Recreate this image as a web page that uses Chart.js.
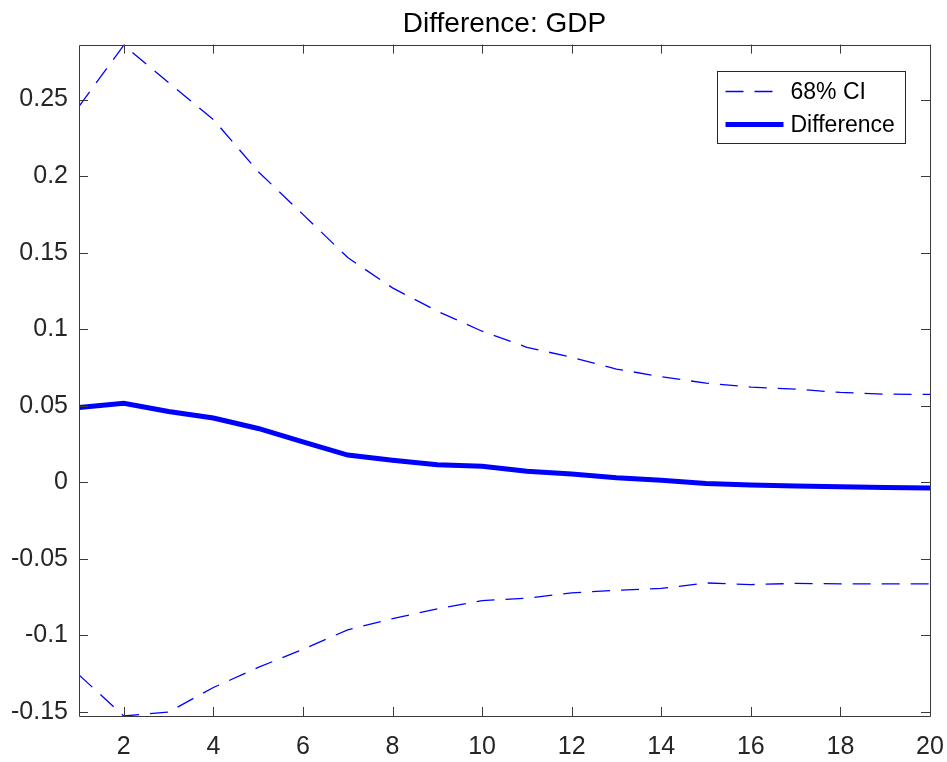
<!DOCTYPE html>
<html>
<head>
<meta charset="utf-8">
<title>Difference: GDP</title>
<script src="https://cdn.jsdelivr.net/npm/chart.js@4/dist/chart.umd.min.js"></script>
<style>
  html, body { margin: 0; padding: 0; background: #ffffff; }
  #wrap { width: 947px; height: 762px; }
</style>
</head>
<body>
<div id="wrap"><canvas id="c" width="947" height="762"></canvas></div>
<script>
// Horizon (periods after the shock)
const horizon = [1, 2, 3, 4, 5, 6, 7, 8, 9, 10, 11, 12, 13, 14, 15, 16, 17, 18, 19, 20];

// Upper and lower bounds of the 68% credible band
const upperCI = [0.2456, 0.2855, 0.2610, 0.2370, 0.2030, 0.1750, 0.1468, 0.1270, 0.1118, 0.0987,
                 0.0882, 0.0817, 0.0740, 0.0690, 0.0648, 0.0622, 0.0609, 0.0587, 0.0576, 0.0574];
const lowerCI = [-0.1258, -0.1526, -0.1500, -0.1340, -0.1209, -0.1090, -0.0963, -0.0890, -0.0826, -0.0772,
                 -0.0757, -0.0722, -0.0705, -0.0693, -0.0657, -0.0668, -0.0660, -0.0663, -0.0663, -0.0663];

// Median difference in GDP response
const difference = [0.0488, 0.0517, 0.0463, 0.0420, 0.0352, 0.0265, 0.0178, 0.0145, 0.0115, 0.0105,
                    0.0072, 0.0054, 0.0030, 0.0013, -0.0007, -0.0018, -0.0024, -0.0028, -0.0033, -0.0037];

// Axis ticks and limits
const xTicks = [2, 4, 6, 8, 10, 12, 14, 16, 18, 20];
const yTicks = [-0.15, -0.1, -0.05, 0, 0.05, 0.1, 0.15, 0.2, 0.25];
const xLimits = [1, 20];
const yLimits = [-0.1526, 0.2859];

const FONT = '"Liberation Sans", Arial, Helvetica, sans-serif';
const AXIS_COLOR = '#3a3a3a';
const TEXT_COLOR = '#262626';
const LINE_BLUE = '#0000ff';
const DASH = [18, 11];

const toPoints = (ys) => horizon.map((x, i) => ({ x: x, y: ys[i] }));

// Box around the plot area with inward tick marks on all four sides
const axesBox = {
  id: 'axesBox',
  afterDatasetsDraw(chart) {
    const { ctx, chartArea: a, scales } = chart;
    const len = 9;
    ctx.save();
    ctx.strokeStyle = AXIS_COLOR;
    ctx.lineWidth = 1;
    ctx.beginPath();
    ctx.rect(Math.round(a.left) + 0.5, Math.round(a.top) + 0.5,
             Math.round(a.right - a.left), Math.round(a.bottom - a.top));
    scales.x.ticks.forEach(t => {
      const px = Math.round(scales.x.getPixelForValue(t.value)) + 0.5;
      ctx.moveTo(px, a.bottom); ctx.lineTo(px, a.bottom - len);
      ctx.moveTo(px, a.top); ctx.lineTo(px, a.top + len);
    });
    scales.y.ticks.forEach(t => {
      const py = Math.round(scales.y.getPixelForValue(t.value)) + 0.5;
      ctx.moveTo(a.left, py); ctx.lineTo(a.left + len, py);
      ctx.moveTo(a.right, py); ctx.lineTo(a.right - len, py);
    });
    ctx.stroke();
    ctx.restore();
  }
};

// Boxed legend in the upper-right corner of the plot area
const boxLegend = {
  id: 'boxLegend',
  afterDraw(chart) {
    const { ctx, chartArea: a } = chart;
    const w = 188, h = 72;
    const x0 = Math.round(a.right - 25 - w) + 0.5;
    const y0 = Math.round(a.top + 26) + 0.5;
    ctx.save();
    ctx.fillStyle = '#ffffff';
    ctx.fillRect(x0, y0, w, h);
    ctx.strokeStyle = TEXT_COLOR;
    ctx.lineWidth = 1;
    ctx.strokeRect(x0, y0, w, h);
    const items = [chart.data.datasets[0], chart.data.datasets[2]];
    const rows = [y0 + 20, y0 + 53];
    items.forEach((ds, i) => {
      const y = rows[i];
      ctx.beginPath();
      ctx.strokeStyle = ds.borderColor;
      ctx.lineWidth = ds.borderWidth;
      ctx.setLineDash(ds.borderDash || []);
      ctx.moveTo(x0 + 8, y);
      ctx.lineTo(x0 + 66, y);
      ctx.stroke();
      ctx.setLineDash([]);
      ctx.fillStyle = '#000000';
      ctx.font = '23px ' + FONT;
      ctx.textBaseline = 'middle';
      ctx.textAlign = 'left';
      ctx.fillText(ds.label, x0 + 73, y + 1);
    });
    ctx.restore();
  }
};

new Chart(document.getElementById('c'), {
  type: 'line',
  data: {
    datasets: [
      {
        label: '68% CI',
        data: toPoints(upperCI),
        borderColor: LINE_BLUE,
        borderWidth: 1.3,
        borderDash: DASH,
        pointRadius: 0,
        tension: 0,
        fill: false
      },
      {
        label: '68% CI (lower)',
        data: toPoints(lowerCI),
        borderColor: LINE_BLUE,
        borderWidth: 1.3,
        borderDash: DASH,
        pointRadius: 0,
        tension: 0,
        fill: false
      },
      {
        label: 'Difference',
        data: toPoints(difference),
        borderColor: LINE_BLUE,
        borderWidth: 5,
        pointRadius: 0,
        tension: 0,
        fill: false
      }
    ]
  },
  options: {
    responsive: false,
    animation: false,
    devicePixelRatio: 1,
    layout: { padding: { left: 0, right: 17, top: 0, bottom: 0 } },
    plugins: {
      legend: { display: false },
      tooltip: { enabled: false },
      title: {
        display: true,
        fullSize: false,   // centre the title over the plot area
        text: 'Difference: GDP',
        color: '#000000',
        font: { family: FONT, size: 28, weight: 'normal', lineHeight: 1.2 },
        padding: { top: 7, bottom: 4 }
      }
    },
    scales: {
      x: {
        type: 'linear',
        min: xLimits[0],
        max: xLimits[1],
        afterBuildTicks: (s) => { s.ticks = xTicks.map(v => ({ value: v })); },
        afterFit: (s) => { s.height = 46; s.paddingLeft = 0; s.paddingRight = 0; },
        grid: { display: false, drawTicks: false },
        border: { display: false },
        ticks: {
          color: TEXT_COLOR,
          font: { family: FONT, size: 25 },
          padding: 16,
          maxRotation: 0,
          autoSkip: false,
          callback: (v) => String(v)
        }
      },
      y: {
        type: 'linear',
        min: yLimits[0],
        max: yLimits[1],
        afterBuildTicks: (s) => { s.ticks = yTicks.map(v => ({ value: v })); },
        afterFit: (s) => { s.width = 79; s.paddingTop = 0; s.paddingBottom = 0; },
        grid: { display: false, drawTicks: false },
        border: { display: false },
        ticks: {
          color: TEXT_COLOR,
          font: { family: FONT, size: 25 },
          padding: 11,
          autoSkip: false,
          callback: (v) => String(Number(v.toFixed(2)))
        }
      }
    }
  },
  plugins: [axesBox, boxLegend]
});
</script>
</body>
</html>
